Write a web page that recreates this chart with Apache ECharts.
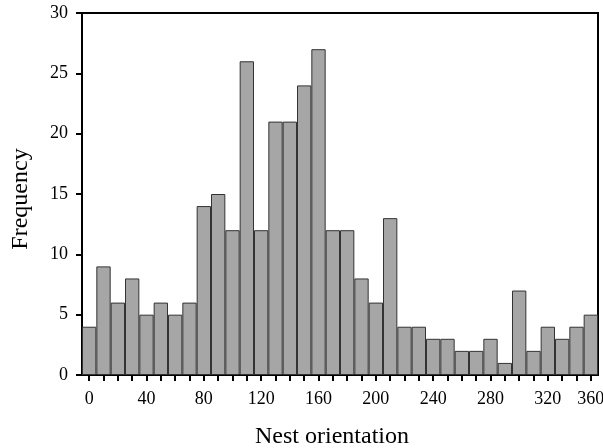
<!DOCTYPE html>
<html>
<head>
<meta charset="utf-8">
<script src="https://cdn.jsdelivr.net/npm/echarts@6/dist/echarts.min.js"></script>
<style>html,body{margin:0;padding:0;background:#fff;}#c{width:603px;height:448px;}</style>
</head>
<body>
<div id="c"></div>
<script>
// Bin centres (degrees) and frequencies
var categories = ["0","10","20","30","40","50","60","70","80","90","100","110","120","130","140","150","160","170","180","190","200","210","220","230","240","250","260","270","280","290","300","310","320","330","340","350"];
var frequency = [4,9,6,8,5,6,5,6,14,15,12,26,12,21,21,24,27,12,12,8,6,13,4,4,3,3,2,2,3,1,7,2,4,3,4,5];
// Tick labels shown on the x axis, keyed by category index
var tickLabelIndex = [0,4,8,12,16,20,24,28,32,35];
var tickLabelText = ["0","40","80","120","160","200","240","280","320","360"];
var yTicks = [0,5,10,15,20,25,30];

var serif = '"Liberation Serif","Times New Roman",serif';
var chart = echarts.init(document.getElementById('c'), null, {renderer:'canvas'});
chart.setOption({
  animation:false,
  backgroundColor:'#fff',
  grid:{left:82,right:5,top:13,bottom:73,show:true,borderColor:'#000',borderWidth:2,backgroundColor:'transparent',outerBoundsMode:'none',containLabel:false},
  xAxis:{
    type:'category',
    data:categories,
    boundaryGap:true,
    name:'Nest orientation',
    nameLocation:'middle',
    nameGap:50,
    nameTextStyle:{fontFamily:serif,fontSize:24,color:'#000',padding:[0,16,0,0]},
    axisLine:{show:true,lineStyle:{color:'#000',width:2}},
    axisTick:{show:true,alignWithLabel:true,interval:0,length:6,lineStyle:{color:'#000',width:2}},
    axisLabel:{
      interval:function(i){return tickLabelIndex.indexOf(i)>=0;},
      formatter:function(v,i){var k=tickLabelIndex.indexOf(i);return k>=0?tickLabelText[k]:'';},
      fontFamily:serif,fontSize:18,color:'#000',margin:15
    },
    splitLine:{show:false}
  },
  yAxis:{
    type:'value',
    min:yTicks[0],max:yTicks[yTicks.length-1],interval:5,
    name:'Frequency',
    nameLocation:'middle',
    nameGap:49,
    nameTextStyle:{fontFamily:serif,fontSize:24,color:'#000',padding:[0,10,0,0]},
    axisLine:{show:true,lineStyle:{color:'#000',width:2}},
    axisTick:{show:true,length:6,lineStyle:{color:'#000',width:2}},
    axisLabel:{fontFamily:serif,fontSize:18,color:'#000',margin:14},
    splitLine:{show:false}
  },
  series:[{
    type:'bar',
    data:frequency,
    barCategoryGap:0,
    itemStyle:{color:'#a6a6a6',borderColor:'#333',borderWidth:1}
  }]
});
</script>
</body>
</html>
